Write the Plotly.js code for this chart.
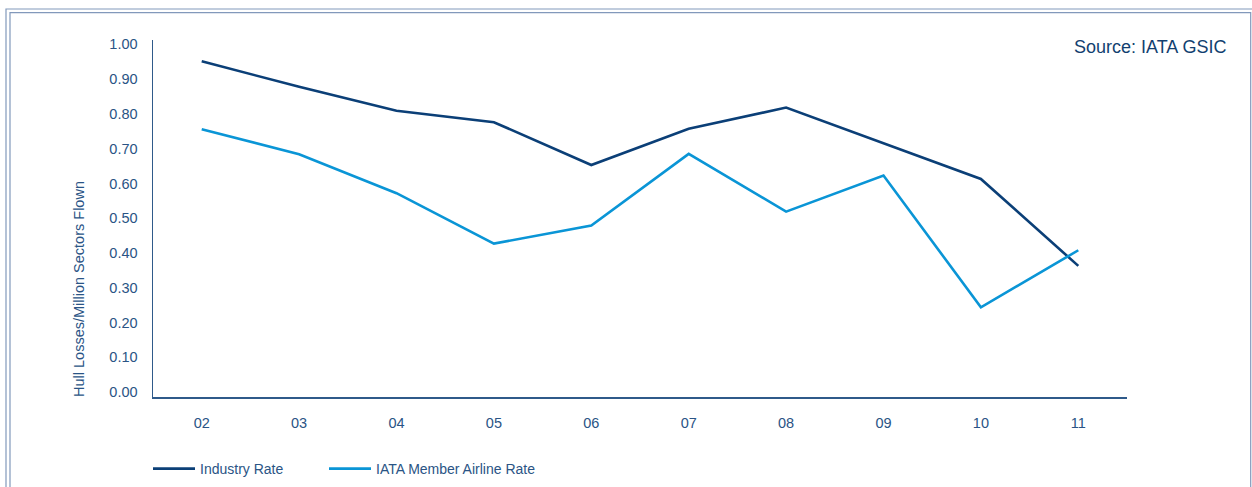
<!DOCTYPE html>
<html>
<head>
<meta charset="utf-8">
<script src="https://cdn.plot.ly/plotly-3.0.1.min.js"></script>
<style>
  html, body { margin: 0; padding: 0; background: #ffffff; }
  #chart { width: 1252px; height: 487px; }
</style>
</head>
<body>
<div id="chart"></div>
<script>
const years = ["02", "03", "04", "05", "06", "07", "08", "09", "10", "11"];
const industryRate = [0.951, 0.878, 0.809, 0.776, 0.653, 0.757, 0.818, 0.716, 0.613, 0.363];
const iataMemberRate = [0.756, 0.684, 0.572, 0.427, 0.479, 0.685, 0.519, 0.623, 0.244, 0.408];
const yTicks = [0, 0.1, 0.2, 0.3, 0.4, 0.5, 0.6, 0.7, 0.8, 0.9, 1.0];
const yTickLabels = ["0.00", "0.10", "0.20", "0.30", "0.40", "0.50", "0.60", "0.70", "0.80", "0.90", "1.00"];

const W = 1252, H = 487;
const L = 153, R = 125, T = 40, B = 90;
const pw = W - L - R, ph = H - T - B;
const px = v => (v - L) / pw;
const py = v => (H - B - v) / ph;

const textColor = "#2a5485";
const font = "Liberation Sans, Arial, Helvetica, sans-serif";
const frameColor = "#8299bb";

const traces = [
  {
    x: years, y: industryRate, type: "scatter", mode: "lines",
    name: "Industry Rate", legend: "legend",
    line: { color: "#0b3f77", width: 2.6 }
  },
  {
    x: years, y: iataMemberRate, type: "scatter", mode: "lines",
    name: "IATA Member Airline Rate", legend: "legend2",
    line: { color: "#0a95d6", width: 2.6 }
  }
];

const legendBase = {
  orientation: "h",
  xanchor: "left",
  yanchor: "middle",
  font: { family: font, size: 14, color: textColor },
  itemwidth: 42,
  bgcolor: "rgba(0,0,0,0)",
  borderwidth: 0
};

const layout = {
  width: W, height: H,
  margin: { l: L, r: R, t: T, b: B, autoexpand: false },
  paper_bgcolor: "#ffffff",
  plot_bgcolor: "#ffffff",
  font: { family: font, color: textColor, size: 14 },
  showlegend: true,
  legend: Object.assign({}, legendBase, { x: px(148), y: py(469) }),
  legend2: Object.assign({}, legendBase, { x: px(324), y: py(469) }),
  xaxis: {
    type: "category",
    range: [-0.5, 9.5],
    showline: true, linecolor: "#2f5a8a", linewidth: 1.5,
    showgrid: false, zeroline: false,
    ticks: "", ticklabelstandoff: 12,
    tickfont: { family: font, size: 14.5, color: textColor },
    fixedrange: true
  },
  yaxis: {
    range: [-0.0138, 1.0123],
    tickvals: yTicks, ticktext: yTickLabels,
    showline: true, linecolor: "#2f5a8a", linewidth: 1.5,
    showgrid: false, zeroline: false,
    ticks: "", ticklabelstandoff: 11,
    tickfont: { family: font, size: 14.5, color: textColor },
    fixedrange: true
  },
  annotations: [
    {
      text: "Hull Losses/Million Sectors Flown",
      xref: "paper", yref: "paper",
      x: px(79), y: py(289),
      xanchor: "center", yanchor: "middle",
      textangle: -90, showarrow: false,
      font: { family: font, size: 14.5, color: textColor }
    },
    {
      text: "Source: IATA GSIC",
      xref: "paper", yref: "paper",
      x: px(1228), y: py(47),
      xanchor: "right", yanchor: "middle",
      showarrow: false,
      font: { family: font, size: 18, color: "#123f70" }
    }
  ],
  shapes: [
    {
      type: "path", xref: "paper", yref: "paper",
      path: `M ${px(6)} ${py(495)} L ${px(6)} ${py(9)} L ${px(1260)} ${py(9)}`,
      line: { color: frameColor, width: 1.2 }
    },
    {
      type: "path", xref: "paper", yref: "paper",
      path: `M ${px(10)} ${py(495)} L ${px(10)} ${py(12.7)} L ${px(1250.7)} ${py(12.7)} L ${px(1250.7)} ${py(495)}`,
      line: { color: frameColor, width: 1.2 }
    }
  ]
};

Plotly.newPlot("chart", traces, layout, { displayModeBar: false, staticPlot: true });
</script>
</body>
</html>
